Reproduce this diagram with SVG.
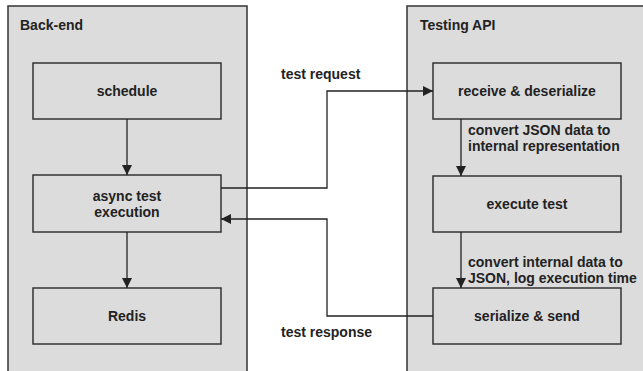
<svg xmlns="http://www.w3.org/2000/svg" width="643" height="371" viewBox="0 0 643 371">
<defs>
<marker id="ah" viewBox="0 0 10 10" refX="10" refY="5" markerWidth="10" markerHeight="10" markerUnits="userSpaceOnUse" orient="auto">
<path d="M0,0 L10,5 L0,10 z" fill="#222"/>
</marker>
<style>
.cont{fill:#dcdcdd;stroke:#333;stroke-width:1.5}
.box{fill:#dcdcdd;stroke:#333;stroke-width:1.5}
.t{font-family:"Liberation Sans",Arial,sans-serif;font-weight:bold;font-size:14px;fill:#222}
.c{text-anchor:middle}
.ln{fill:none;stroke:#222;stroke-width:1.3}
</style>
</defs>
<rect width="643" height="371" fill="#fff"/>
<g id="backend">
<rect class="cont" x="8" y="6" width="239" height="380"/>
<text class="t" x="20" y="30">Back-end</text>
</g>
<g id="testingapi">
<rect class="cont" x="407" y="6" width="250" height="380"/>
<text class="t" x="420" y="30">Testing API</text>
</g>
<g id="schedule">
<rect class="box" x="33" y="63" width="188" height="56"/>
<text class="t c" x="127" y="96">schedule</text>
</g>
<g id="async">
<rect class="box" x="33" y="175" width="188" height="57"/>
<text class="t c" x="127" y="201">async test</text>
<text class="t c" x="127" y="217">execution</text>
</g>
<g id="redis">
<rect class="box" x="33" y="288" width="188" height="56"/>
<text class="t c" x="127" y="321">Redis</text>
</g>
<g id="receive">
<rect class="box" x="433" y="63" width="188" height="56"/>
<text class="t c" x="527" y="96">receive &amp; deserialize</text>
</g>
<g id="execute">
<rect class="box" x="433" y="176" width="188" height="56"/>
<text class="t c" x="527" y="209">execute test</text>
</g>
<g id="serialize">
<rect class="box" x="433" y="288" width="188" height="56"/>
<text class="t c" x="527" y="321">serialize &amp; send</text>
</g>
<g id="connectors">
<path class="ln" d="M127,119 V175" marker-end="url(#ah)"/>
<path class="ln" d="M127,232 V288" marker-end="url(#ah)"/>
<path class="ln" d="M461,119 V176" marker-end="url(#ah)"/>
<path class="ln" d="M461,232 V288" marker-end="url(#ah)"/>
<path class="ln" d="M221,188 H327 V91 H433" marker-end="url(#ah)"/>
<path class="ln" d="M433,316 H327 V219 H221" marker-end="url(#ah)"/>
<text class="t" x="281" y="79">test request</text>
<text class="t" x="281" y="337">test response</text>
<text class="t" x="468" y="135">convert JSON data to</text>
<text class="t" x="468" y="151">internal representation</text>
<text class="t" x="468" y="267">convert internal data to</text>
<text class="t" x="468" y="283">JSON, log execution time</text>
</g>
</svg>
